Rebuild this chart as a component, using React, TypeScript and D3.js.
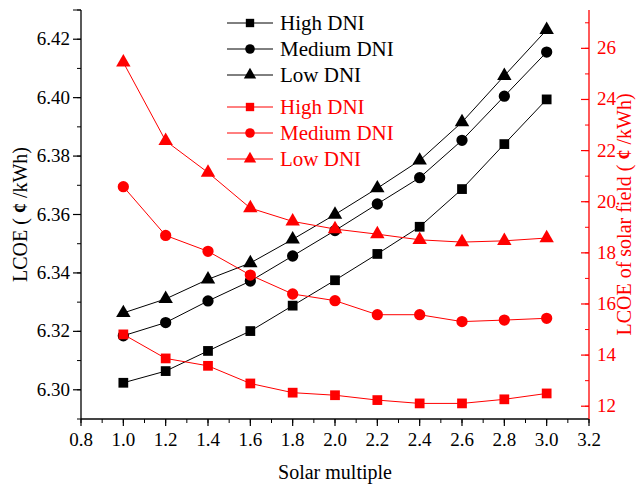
import React from "react";
import * as d3 from "d3";

const solarMultiple = [1.0, 1.2, 1.4, 1.6, 1.8, 2.0, 2.2, 2.4, 2.6, 2.8, 3.0];

// LCOE (left axis, ¢/kWh)
const lcoeHigh = [6.3024, 6.3064, 6.3133, 6.3201, 6.3288, 6.3375, 6.3465, 6.3558, 6.3687, 6.3841, 6.3994];
const lcoeMedium = [6.3185, 6.323, 6.3304, 6.3372, 6.3458, 6.3545, 6.3636, 6.3726, 6.3854, 6.4005, 6.4156];
const lcoeLow = [6.3263, 6.3311, 6.3378, 6.3434, 6.3515, 6.36, 6.369, 6.3785, 6.3916, 6.4075, 6.4232];

// LCOE of solar field (right axis, ¢/kWh)
const fieldHigh = [14.81, 13.87, 13.58, 12.89, 12.53, 12.43, 12.24, 12.11, 12.11, 12.27, 12.5];
const fieldMedium = [20.59, 18.68, 18.06, 17.13, 16.39, 16.13, 15.58, 15.58, 15.31, 15.37, 15.44];
const fieldLow = [25.45, 22.38, 21.14, 19.75, 19.23, 18.93, 18.73, 18.51, 18.42, 18.47, 18.58];

const xTicks = [0.8, 1.0, 1.2, 1.4, 1.6, 1.8, 2.0, 2.2, 2.4, 2.6, 2.8, 3.0, 3.2];
const leftTicks = [6.3, 6.32, 6.34, 6.36, 6.38, 6.4, 6.42];
const rightTicks = [12, 14, 16, 18, 20, 22, 24, 26];
const seriesNames = ["High DNI", "Medium DNI", "Low DNI"];

const W = 640;
const H = 487;
const L = 81, R = 589, T = 10, B = 419;
const FONT = '"Liberation Serif", "Times New Roman", "DejaVu Serif", serif';
const RED = "#ff0000";
const tf = { fontFamily: FONT };

const x = d3.scaleLinear().domain([0.8, 3.2]).range([L, R]);
const yL = d3.scaleLinear().domain([6.29, 6.43]).range([B, T]);
const yR = d3.scaleLinear().domain([11.5, 27.5]).range([B, T]);

const symbols = [d3.symbolSquare, d3.symbolCircle, d3.symbolTriangle];
const symSizes = [95, 100, 90];
const legSizes = [70, 72, 66];

function marker(i: number, size: number) {
  return d3.symbol().type(symbols[i]).size(size)() as string;
}

export default function App() {
  const leftSeries = [lcoeHigh, lcoeMedium, lcoeLow];
  const rightSeries = [fieldHigh, fieldMedium, fieldLow];

  const lineL = d3.line<number>().x((_, i) => x(solarMultiple[i])).y((d) => yL(d));
  const lineR = d3.line<number>().x((_, i) => x(solarMultiple[i])).y((d) => yR(d));

  const xMinor = d3.range(8, 33).map((v) => v / 10);
  const leftMinor = d3.range(629, 644).map((v) => v / 100);
  const rightMinor = d3.range(12, 28);

  return (
    <svg
      width={W}
      height={H}
      style={{ position: "absolute", left: 0, top: 0, background: "#fff", fontFamily: FONT }}
    >
      {/* series: black (left) */}
      {leftSeries.map((s, k) => (
        <g key={"l" + k}>
          <path d={lineL(s) as string} fill="none" stroke="#000" strokeWidth={1} />
          {s.map((v, i) => (
            <path key={i} d={marker(k, symSizes[k])} transform={`translate(${x(solarMultiple[i])},${yL(v)})`} fill="#000" />
          ))}
        </g>
      ))}
      {/* series: red (right) */}
      {rightSeries.map((s, k) => (
        <g key={"r" + k}>
          <path d={lineR(s) as string} fill="none" stroke={RED} strokeWidth={1} />
          {s.map((v, i) => (
            <path key={i} d={marker(k, symSizes[k])} transform={`translate(${x(solarMultiple[i])},${yR(v)})`} fill={RED} />
          ))}
        </g>
      ))}

      {/* bottom axis */}
      <line x1={L} x2={R} y1={B} y2={B} stroke="#444" strokeWidth={2} />
      {xMinor.map((v, i) => (
        <line key={i} x1={x(v)} x2={x(v)} y1={B} y2={B + 4} stroke="#000" strokeWidth={1} />
      ))}
      {xTicks.map((v, i) => (
        <g key={i}>
          <line x1={x(v)} x2={x(v)} y1={B} y2={B + 7} stroke="#000" strokeWidth={1.2} />
          <text x={x(v)} y={B + 27} textAnchor="middle" fontSize={19} fill="#000" style={tf}>
            {v.toFixed(1)}
          </text>
        </g>
      ))}
      <text x={(L + R) / 2} y={B + 60} textAnchor="middle" fontSize={20} fill="#000" style={tf}>
        Solar multiple
      </text>

      {/* left axis */}
      <line x1={L} x2={L} y1={T} y2={B} stroke="#000" strokeWidth={1.3} />
      {leftMinor.map((v, i) => (
        <line key={i} x1={L - 4} x2={L} y1={yL(v)} y2={yL(v)} stroke="#000" strokeWidth={1} />
      ))}
      <line x1={L - 8} x2={L} y1={T} y2={T} stroke="#000" strokeWidth={1} />
      {leftTicks.map((v, i) => (
        <g key={i}>
          <line x1={L - 8} x2={L} y1={yL(v)} y2={yL(v)} stroke="#000" strokeWidth={1.2} />
          <text x={L - 11} y={yL(v) + 6} textAnchor="end" fontSize={19} fill="#000" style={tf}>
            {v.toFixed(2)}
          </text>
        </g>
      ))}
      <text transform={`translate(27,${(T + B) / 2}) rotate(-90)`} textAnchor="middle" fontSize={20} fill="#000" style={tf}>
        LCOE ( <tspan fontWeight="bold">¢</tspan> /kWh)
      </text>

      {/* right axis */}
      <line x1={R} x2={R} y1={T} y2={B} stroke={RED} strokeWidth={1.3} />
      {rightMinor.map((v, i) => (
        <line key={i} x1={R - 4} x2={R} y1={yR(v)} y2={yR(v)} stroke={RED} strokeWidth={1} />
      ))}
      {rightTicks.map((v, i) => (
        <g key={i}>
          <line x1={R - 8} x2={R} y1={yR(v)} y2={yR(v)} stroke={RED} strokeWidth={1.2} />
          <text x={R + 8} y={yR(v) + 6} textAnchor="start" fontSize={19} fill={RED} style={tf}>
            {v}
          </text>
        </g>
      ))}
      <text transform={`translate(631,${(T + B) / 2}) rotate(-90)`} textAnchor="middle" fontSize={20} fill={RED} style={tf}>
        LCOE of solar field ( <tspan fontWeight="bold">¢</tspan> /kWh)
      </text>

      {/* legend */}
      {seriesNames.map((name, k) => (
        <g key={"lb" + k} transform={`translate(0,${23 + k * 26})`}>
          <line x1={227} x2={273} y1={0} y2={0} stroke="#000" strokeWidth={1} />
          <path d={marker(k, legSizes[k])} transform="translate(250,0)" fill="#000" />
          <text x={280} y={7} fontSize={21} fill="#000" style={tf}>
            {name}
          </text>
        </g>
      ))}
      {seriesNames.map((name, k) => (
        <g key={"lr" + k} transform={`translate(0,${107 + k * 26})`}>
          <line x1={227} x2={273} y1={0} y2={0} stroke={RED} strokeWidth={1} />
          <path d={marker(k, legSizes[k])} transform="translate(250,0)" fill={RED} />
          <text x={280} y={7} fontSize={21} fill={RED} style={tf}>
            {name}
          </text>
        </g>
      ))}
    </svg>
  );
}
